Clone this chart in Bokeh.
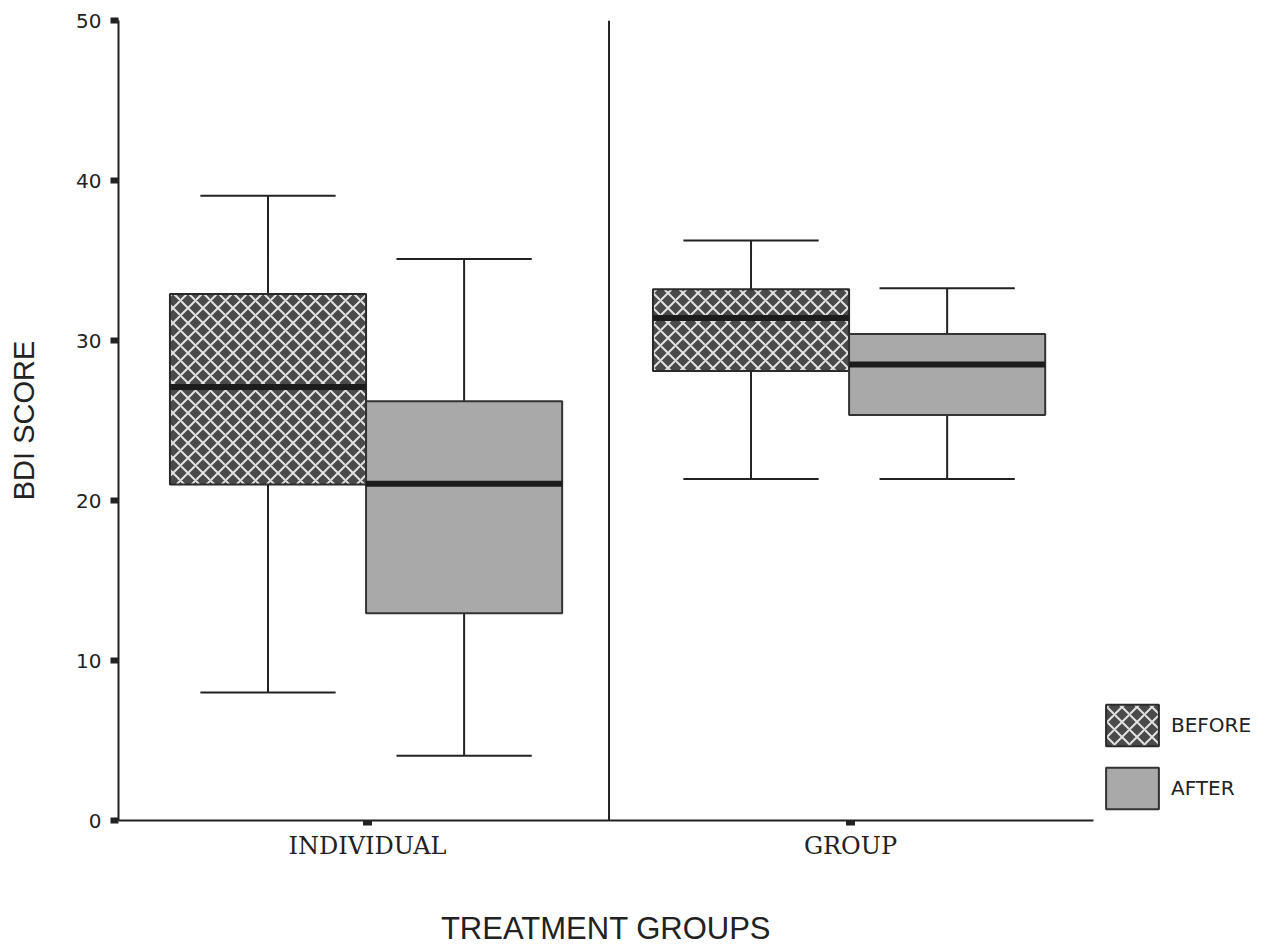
import numpy as np
from bokeh.plotting import figure
from bokeh.models import ColumnDataSource, Range1d, FixedTicker, Span, Legend, LegendItem
from bokeh.embed import file_html
from bokeh.resources import INLINE

# ---- data ----
groups = ["INDIVIDUAL", "GROUP"]
group_pos = [1, 2]
series = ["BEFORE", "AFTER"]
before_low = [8.0, 21.35]
before_q1 = [21.0, 28.1]
before_med = [27.1, 31.4]
before_q3 = [32.9, 33.2]
before_high = [39.05, 36.25]
after_low = [4.05, 21.35]
after_q1 = [12.95, 25.35]
after_med = [21.05, 28.5]
after_q3 = [26.2, 30.4]
after_high = [35.1, 33.27]
y_ticks = [0, 10, 20, 30, 40, 50]

# ---- layout constants ----
BOX_W = 0.406
CAP_W = 0.28
OFFSETS = {"BEFORE": -0.206, "AFTER": 0.2}
INK = "#222222"

p = figure(frame_width=975, frame_height=800,
           x_range=Range1d(0.4845, 2.503), y_range=Range1d(0, 50),
           output_backend="svg", toolbar_location=None,
           min_border_left=118, min_border_right=150,
           min_border_top=20, min_border_bottom=128)
p.outline_line_color = None
p.xgrid.visible = False
p.ygrid.visible = False
p.background_fill_color = "white"
p.border_fill_color = "white"

def make_source(name, low, q1, med, q3, high):
    x = np.array(group_pos, dtype=float) + OFFSETS[name]
    return ColumnDataSource(dict(
        x=x, left=x - BOX_W / 2, right=x + BOX_W / 2,
        cl=x - CAP_W / 2, cr=x + CAP_W / 2,
        low=low, q1=q1, med=med, q3=q3, high=high))

src_b = make_source("BEFORE", before_low, before_q1, before_med, before_q3, before_high)
src_a = make_source("AFTER", after_low, after_q1, after_med, after_q3, after_high)

for src in (src_b, src_a):
    p.segment(x0="x", x1="x", y0="q3", y1="high", source=src, line_color=INK, line_width=2)
    p.segment(x0="x", x1="x", y0="low", y1="q1", source=src, line_color=INK, line_width=2)
    p.segment(x0="cl", x1="cr", y0="high", y1="high", source=src, line_color=INK, line_width=2)
    p.segment(x0="cl", x1="cr", y0="low", y1="low", source=src, line_color=INK, line_width=2)

rb = p.quad(left="left", right="right", bottom="q1", top="q3", source=src_b,
            fill_color="#4a4a4a", line_color="#2a2a2a", line_width=2,
            hatch_pattern="x", hatch_color="#e2e2e2", hatch_weight=2, hatch_scale=15)
ra = p.quad(left="left", right="right", bottom="q1", top="q3", source=src_a,
            fill_color="#a9a9a9", line_color="#333333", line_width=2)

for src in (src_b, src_a):
    p.segment(x0="left", x1="right", y0="med", y1="med", source=src,
              line_color="#1c1c1c", line_width=6)

p.add_layout(Span(location=1.5, dimension="height", line_color=INK, line_width=2))

# ---- axes ----
xa = p.xaxis[0]
xa.ticker = FixedTicker(ticks=group_pos)
xa.major_label_overrides = {gp: g for gp, g in zip(group_pos, groups)}
xa.axis_line_width = 2
xa.axis_line_color = INK
xa.major_tick_in = 0
xa.major_tick_out = 5
xa.major_tick_line_width = 9
xa.major_tick_line_color = INK
xa.minor_tick_line_color = None
xa.major_label_text_font = "DejaVu Serif"
xa.major_label_text_font_size = "24px"
xa.major_label_text_color = INK
xa.major_label_standoff = 6
xa.axis_label = "TREATMENT GROUPS"
xa.axis_label_text_font = "Liberation Sans"
xa.axis_label_text_font_size = "31px"
xa.axis_label_text_font_style = "normal"
xa.axis_label_text_color = INK
xa.axis_label_standoff = 48

ya = p.yaxis[0]
ya.ticker = FixedTicker(ticks=y_ticks)
ya.axis_line_width = 2
ya.axis_line_color = INK
ya.major_tick_in = 0
ya.major_tick_out = 8
ya.major_tick_line_width = 6
ya.major_tick_line_color = INK
ya.minor_tick_line_color = None
ya.major_label_text_font = "DejaVu Sans"
ya.major_label_text_font_size = "20px"
ya.major_label_text_color = INK
ya.major_label_standoff = 9
ya.axis_label = "BDI SCORE"
ya.axis_label_text_font = "Liberation Sans"
ya.axis_label_text_font_size = "29px"
ya.axis_label_text_font_style = "normal"
ya.axis_label_text_color = INK
ya.axis_label_standoff = 33

legend = Legend(items=[LegendItem(label=series[0], renderers=[rb]),
                       LegendItem(label=series[1], renderers=[ra])],
                location="bottom_left", orientation="vertical",
                glyph_width=66, glyph_height=52, spacing=11, label_standoff=6,
                label_text_font="DejaVu Sans", label_text_font_size="20px",
                label_text_color=INK,
                border_line_color=None, background_fill_alpha=0,
                padding=0, margin=6)
p.add_layout(legend, "right")

open("out.html", "w").write(file_html(p, INLINE))
